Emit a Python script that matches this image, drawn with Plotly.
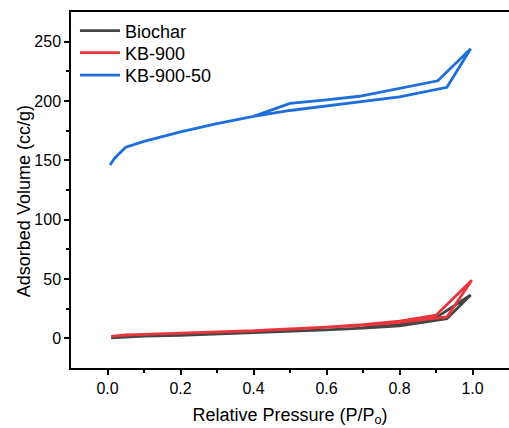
import plotly.graph_objects as go

series_names = ["Biochar", "KB-900", "KB-900-50"]
series_colors = ["#454545", "#e8353b", "#1e6fdc"]

biochar_x = [0.01, 0.05, 0.1, 0.2, 0.3, 0.4, 0.5, 0.6, 0.7, 0.8, 0.93, 0.995, 0.9, 0.8, 0.7]
biochar_y = [0.5, 1.2, 1.8, 2.6, 3.6, 4.8, 5.9, 7.2, 8.6, 10.5, 16.5, 36.5, 17.5, 11.5, 9.0]

kb900_x = [0.01, 0.05, 0.1, 0.2, 0.3, 0.4, 0.5, 0.6, 0.7, 0.8, 0.93, 0.998, 0.9, 0.8, 0.7, 0.6, 0.5, 0.4]
kb900_y = [1.7, 2.8, 3.3, 4.2, 5.2, 6.4, 7.8, 9.2, 11.0, 13.5, 18.0, 49.0, 19.5, 14.5, 11.5, 9.5, 8.0, 6.5]

kb90050_x = [0.007, 0.02, 0.05, 0.1, 0.15, 0.2, 0.3, 0.4, 0.5, 0.6, 0.7, 0.8, 0.93, 0.995,
             0.905, 0.8, 0.69, 0.6, 0.5, 0.4]
kb90050_y = [146, 152, 161, 166, 170, 174, 181, 187, 192, 196, 200, 203.5, 211.5, 244,
             217, 210.5, 204, 201, 198, 187]

x_tick_vals = [0.0, 0.2, 0.4, 0.6, 0.8, 1.0]
x_tick_text = ["0.0", "0.2", "0.4", "0.6", "0.8", "1.0"]
y_tick_vals = [0, 50, 100, 150, 200, 250]

xs = [biochar_x, kb900_x, kb90050_x]
ys = [biochar_y, kb900_y, kb90050_y]
legend_ids = ["legend", "legend2", "legend3"]

fig = go.Figure()
for name, color, x, y, lg in zip(series_names, series_colors, xs, ys, legend_ids):
    fig.add_trace(go.Scatter(x=x, y=y, mode="lines", name=name, legend=lg,
                             line=dict(color=color, width=2.8)))

font = "Liberation Sans, Arial, sans-serif"
legend_style = dict(x=0.009, xanchor="left", yanchor="middle", itemwidth=40,
                    bgcolor="rgba(0,0,0,0)", font=dict(size=18))
fig.update_layout(
    width=509, height=428,
    margin=dict(l=71, r=0, t=12, b=60),
    paper_bgcolor="white", plot_bgcolor="white",
    font=dict(family=font, size=16, color="black"),
    showlegend=True,
    legend=dict(y=0.9466, **legend_style),
    legend2=dict(y=0.8848, **legend_style),
    legend3=dict(y=0.8216, **legend_style),
    xaxis=dict(range=[-0.1, 1.1], tickvals=x_tick_vals, ticktext=x_tick_text,
               showgrid=False, zeroline=False, showline=True, linecolor="black",
               linewidth=1.5, mirror=True, ticks="outside", ticklen=5,
               tickcolor="black", tickwidth=1.5, tickfont=dict(size=16),
               minor=dict(ticks="outside", ticklen=3, tickvals=[0.1, 0.3, 0.5, 0.7, 0.9],
                          tickcolor="black", tickwidth=1.5, showgrid=False),
               title=dict(text="Relative Pressure (P/P<sub>o</sub>)", standoff=12,
                          font=dict(size=18))),
    yaxis=dict(range=[-25, 275], tickvals=y_tick_vals,
               showgrid=False, zeroline=False, showline=True, linecolor="black",
               linewidth=1.5, ticks="outside", ticklen=5,
               tickcolor="black", tickwidth=1.5, tickfont=dict(size=16),
               minor=dict(ticks="outside", ticklen=3, tickvals=[25, 75, 125, 175, 225],
                          tickcolor="black", tickwidth=1.5, showgrid=False)),
    annotations=[dict(text="Adsorbed Volume (cc/g)", xref="paper", yref="paper",
                      x=-0.107, y=0.469, xanchor="center", yanchor="middle",
                      textangle=-90, showarrow=False, font=dict(size=18))],
)

fig.write_html("out.html")
